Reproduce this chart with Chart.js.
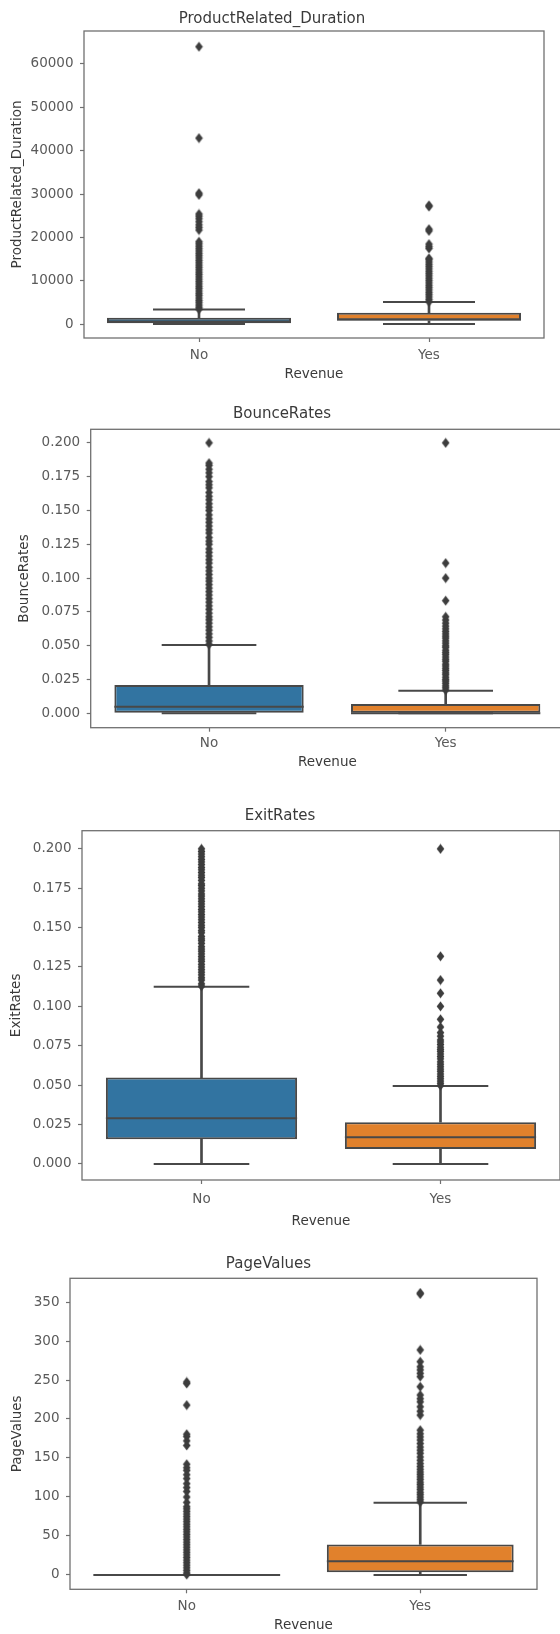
<!DOCTYPE html>
<html>
<head>
<meta charset="utf-8">
<script src="https://cdn.jsdelivr.net/npm/chart.js@4.4.0/dist/chart.umd.min.js"></script>
<style>
  html, body { margin: 0; padding: 0; background: #fff; overflow: hidden; }
  body { width: 560px; height: 1634px; position: relative; }
  canvas { position: absolute; left: 0; }
</style>
</head>
<body>
<script>
const categories = ['No', 'Yes'];

// ProductRelated_Duration
const prdQ1 = [185, 760];
const prdMedian = [600, 1110];
const prdQ3 = [1465, 2610];
const prdLow = [0, 0];
const prdHigh = [3390, 5080];
const prdFliersNo = [3420, 3880, 4410, 4950, 5460, 6020, 6590, 7100, 7640, 8210, 8730, 9280, 9810, 10370,
  10900, 11460, 11980, 12530, 13090, 13620, 14150, 14700, 15260, 15790, 16330, 16870, 17400, 17960, 18510,
  19000, 21700, 22300, 22900, 23600, 24300, 24900, 25400, 29800, 30200, 42900, 63970];
const prdFliersYes = [5150, 5700, 6260, 6800, 7330, 7890, 8420, 8960, 9510, 10040, 10580, 11130, 11650,
  12190, 12740, 13270, 13800, 14340, 14870, 15170, 17450, 17900, 18450, 21500, 21900, 27100, 27400];
const prdTicks = [0, 10000, 20000, 30000, 40000, 50000, 60000];
const prdRange = [-3200, 67600];

// BounceRates
const brQ1 = [0, 0];
const brMedian = [0.0049, 0];
const brQ3 = [0.0209, 0.0069];
const brLow = [0, 0];
const brHigh = [0.0505, 0.0167];
const brFliersNo = [0.051, 0.0535, 0.0562, 0.0588, 0.0615, 0.064, 0.0667, 0.0692, 0.0714, 0.0741, 0.0769,
  0.0795, 0.0822, 0.0848, 0.0875, 0.09, 0.0926, 0.0952, 0.0978, 0.1, 0.1027, 0.1053, 0.108, 0.1111, 0.1136,
  0.1163, 0.119, 0.1216, 0.125, 0.1273, 0.13, 0.1333, 0.1357, 0.1385, 0.1412, 0.1438, 0.1467, 0.15, 0.1524,
  0.155, 0.1579, 0.1605, 0.1633, 0.1667, 0.169, 0.1714, 0.175, 0.1778, 0.1805, 0.1833, 0.185, 0.2];
const brFliersYes = [0.0172, 0.0189, 0.0204, 0.0222, 0.0238, 0.025, 0.0267, 0.0286, 0.03, 0.0317, 0.0333,
  0.035, 0.0364, 0.0385, 0.04, 0.0417, 0.0435, 0.045, 0.0467, 0.0488, 0.05, 0.0519, 0.0536, 0.0556, 0.0571,
  0.0588, 0.0606, 0.0625, 0.0645, 0.0667, 0.069, 0.0714, 0.0833, 0.1, 0.1111, 0.2];
const brTicks = [0, 0.025, 0.05, 0.075, 0.1, 0.125, 0.15, 0.175, 0.2];
const brRange = [-0.0106, 0.21];

// ExitRates
const erQ1 = [0.0157, 0.0095];
const erMedian = [0.029, 0.0169];
const erQ3 = [0.0548, 0.0265];
const erLow = [0, 0];
const erHigh = [0.1125, 0.0495];
const erFliersNo = [0.1128, 0.1143, 0.1167, 0.1182, 0.12, 0.1217, 0.1233, 0.125, 0.1267, 0.1286, 0.13,
  0.1316, 0.1333, 0.135, 0.1364, 0.1379, 0.14, 0.1417, 0.1429, 0.1444, 0.1467, 0.1481, 0.15, 0.1515, 0.1533,
  0.155, 0.1567, 0.1583, 0.16, 0.1615, 0.1633, 0.165, 0.1667, 0.1683, 0.17, 0.1714, 0.1733, 0.175, 0.1767,
  0.1778, 0.18, 0.1818, 0.1833, 0.185, 0.1867, 0.1882, 0.19, 0.1917, 0.1933, 0.195, 0.1967, 0.1983, 0.2];
const erFliersYes = [0.0497, 0.0512, 0.0526, 0.0541, 0.0556, 0.0571, 0.0588, 0.0602, 0.0617, 0.0633, 0.0648,
  0.0667, 0.0682, 0.0698, 0.0714, 0.0727, 0.0741, 0.0758, 0.0774, 0.0787, 0.0811, 0.0833, 0.0869, 0.0918,
  0.1, 0.1083, 0.1167, 0.1318, 0.2];
const erTicks = [0, 0.025, 0.05, 0.075, 0.1, 0.125, 0.15, 0.175, 0.2];
const erRange = [-0.0102, 0.2115];

// PageValues
const pvQ1 = [0, 3.4];
const pvMedian = [0, 17.5];
const pvQ3 = [0, 39];
const pvLow = [0, 0];
const pvHigh = [0, 92.6];
const pvFliersNo = [0.4, 2.5, 5.8, 9.1, 12.5, 15.7, 19, 22.3, 25.6, 28.9, 32.1, 35.5, 38.7, 42, 45.3, 48.6,
  51.9, 55.2, 58.4, 61.7, 65, 68.3, 71.6, 74.8, 78.1, 81.4, 84.7, 87.5, 93, 99.9, 107, 112, 117, 123.5,
  128.5, 134, 137.5, 142, 166, 172, 177.5, 180.5, 217.8, 245.5, 247.5];
const pvFliersYes = [93.5, 96.5, 99.8, 103, 106, 109.5, 112.7, 116, 119, 122.5, 125.7, 129, 132, 135.5, 139,
  142.8, 147, 151.3, 156, 160, 164, 168.5, 173, 177, 181, 185.7, 205, 210, 215.7, 222, 226, 230.7, 241.4,
  254.3, 258.6, 263, 267, 273.5, 288.6, 360.5, 361.6];
const pvTicks = [0, 50, 100, 150, 200, 250, 300, 350];
const pvRange = [-18.5, 380.5];

const BLUE = '#3274a1';
const ORANGE = '#e1812c';
const LINE = '#484848';
const FLIER = '#3d3d3d';
const FRAME = '#707070';
const FONT = 'DejaVu Sans';
const TITLE_SIZE = 15;
const AXIS_SIZE = 13.5;

// thin diamond marker like matplotlib 'd'
const flierMark = document.createElement('canvas');
flierMark.width = 9;
flierMark.height = 11;
(function () {
  const g = flierMark.getContext('2d');
  g.fillStyle = FLIER;
  g.beginPath();
  g.moveTo(4.5, 0.5);
  g.lineTo(8.3, 5.5);
  g.lineTo(4.5, 10.5);
  g.lineTo(0.7, 5.5);
  g.closePath();
  g.fill();
})();

const framePlugin = {
  id: 'frame',
  afterDatasetsDraw(chart) {
    const { ctx, chartArea: a } = chart;
    ctx.save();
    ctx.strokeStyle = FRAME;
    ctx.lineWidth = 1.3;
    ctx.strokeRect(a.left, a.top, a.right - a.left, a.bottom - a.top);
    ctx.restore();
  }
};

function boxChart(p, s) {
  const canvas = document.createElement('canvas');
  canvas.width = p.width;
  canvas.height = p.height;
  canvas.style.top = p.top + 'px';
  canvas.style.width = p.width + 'px';
  canvas.style.height = p.height + 'px';
  document.body.appendChild(canvas);

  const lhT = TITLE_SIZE * 1.2;
  const lhA = AXIS_SIZE * 1.2;
  const plotW = ctx => ctx.chart.chartArea ? ctx.chart.chartArea.right - ctx.chart.chartArea.left : 0;
  const halfBox = ctx => plotW(ctx) * 0.2;
  const halfCap = ctx => plotW(ctx) * 0.1;

  const fliers = s.fliersNo.map(v => ({ x: categories[0], y: v }))
    .concat(s.fliersYes.map(v => ({ x: categories[1], y: v })));

  const tickStyle = { color: '#5a5a5a', font: { family: FONT, size: AXIS_SIZE } };
  const titleStyle = { color: '#3a3a3a', font: { family: FONT, size: AXIS_SIZE } };

  new Chart(canvas, {
    type: 'bar',
    data: {
      labels: categories,
      datasets: [
        { type: 'line', data: fliers, order: 1, showLine: false, pointStyle: flierMark, pointRadius: 4 },
        { type: 'line', data: s.med, order: 2, showLine: false, pointStyle: 'line', pointRadius: halfBox,
          pointBorderColor: LINE, pointBorderWidth: 2 },
        { type: 'line', data: s.hi, order: 3, showLine: false, pointStyle: 'line', pointRadius: halfCap,
          pointBorderColor: LINE, pointBorderWidth: 2 },
        { type: 'line', data: s.lo, order: 3, showLine: false, pointStyle: 'line', pointRadius: halfCap,
          pointBorderColor: LINE, pointBorderWidth: 2 },
        { type: 'bar', data: categories.map((c, i) => [s.q3[i], s.hi[i]]), order: 4, grouped: false,
          barThickness: 2, backgroundColor: LINE },
        { type: 'bar', data: categories.map((c, i) => [s.lo[i], s.q1[i]]), order: 4, grouped: false,
          barThickness: 2, backgroundColor: LINE },
        { type: 'bar', data: categories.map((c, i) => [s.q1[i], s.q3[i]]), order: 5, grouped: false,
          backgroundColor: [BLUE, ORANGE], borderColor: LINE, borderWidth: 2, borderSkipped: false,
          barPercentage: 0.8, categoryPercentage: 1 }
      ]
    },
    options: {
      responsive: false,
      devicePixelRatio: 1,
      animation: false,
      events: [],
      layout: { padding: { left: 0, top: 0, bottom: 0, right: p.width - p.right } },
      plugins: {
        legend: { display: false },
        tooltip: { enabled: false },
        title: {
          display: true,
          text: s.title,
          color: '#3a3a3a',
          font: { family: FONT, size: TITLE_SIZE, weight: 'normal' },
          padding: { top: p.titleY - p.top - lhT / 2, bottom: p.plotTop - p.titleY - lhT / 2 }
        }
      },
      scales: {
        x: {
          type: 'category',
          offset: true,
          border: { display: false },
          grid: { drawOnChartArea: false, offset: false, tickLength: 4, tickColor: FRAME, tickWidth: 1.2 },
          ticks: Object.assign({ padding: p.tickY - AXIS_SIZE * 0.56 - p.plotBottom - 4 }, tickStyle),
          title: Object.assign({ display: true, text: 'Revenue',
            padding: { top: 0, bottom: p.top + p.height - p.xTitleY - lhA / 2 } }, titleStyle),
          afterFit: sc => { sc.height = p.top + p.height - p.plotBottom; }
        },
        y: {
          type: 'linear',
          min: s.range[0],
          max: s.range[1],
          border: { display: false },
          grid: { drawOnChartArea: false, tickLength: 4, tickColor: FRAME, tickWidth: 1.2 },
          afterBuildTicks: sc => { sc.ticks = s.ticks.map(v => ({ value: v })); },
          ticks: Object.assign({ padding: 6.5, callback: v => s.decimals ? v.toFixed(s.decimals) : String(v) }, tickStyle),
          title: Object.assign({ display: true, text: s.title,
            padding: { top: p.yTitleX - lhA / 2, bottom: 0 } }, titleStyle),
          afterFit: sc => { sc.width = p.left; }
        }
      }
    },
    plugins: [framePlugin]
  });
}

boxChart(
  { top: 0, width: 560, height: 384, left: 84, right: 544, plotTop: 31, plotBottom: 338,
    titleY: 18.8, tickY: 354.5, xTitleY: 374, yTitleX: 17.5 },
  { title: 'ProductRelated_Duration', q1: prdQ1, med: prdMedian, q3: prdQ3, lo: prdLow, hi: prdHigh,
    fliersNo: prdFliersNo, fliersYes: prdFliersYes, ticks: prdTicks, range: prdRange, decimals: 0 });

boxChart(
  { top: 395, width: 580, height: 377, left: 90.7, right: 564, plotTop: 429.3, plotBottom: 727.7,
    titleY: 414.5, tickY: 743, xTitleY: 762, yTitleX: 24 },
  { title: 'BounceRates', q1: brQ1, med: brMedian, q3: brQ3, lo: brLow, hi: brHigh,
    fliersNo: brFliersNo, fliersYes: brFliersYes, ticks: brTicks, range: brRange, decimals: 3 });

boxChart(
  { top: 795, width: 580, height: 436, left: 82, right: 560, plotTop: 830.7, plotBottom: 1180,
    titleY: 816.3, tickY: 1199, xTitleY: 1221, yTitleX: 16 },
  { title: 'ExitRates', q1: erQ1, med: erMedian, q3: erQ3, lo: erLow, hi: erHigh,
    fliersNo: erFliersNo, fliersYes: erFliersYes, ticks: erTicks, range: erRange, decimals: 3 });

boxChart(
  { top: 1240, width: 560, height: 394, left: 70, right: 537, plotTop: 1278.3, plotBottom: 1589.3,
    titleY: 1264, tickY: 1606, xTitleY: 1625.3, yTitleX: 17 },
  { title: 'PageValues', q1: pvQ1, med: pvMedian, q3: pvQ3, lo: pvLow, hi: pvHigh,
    fliersNo: pvFliersNo, fliersYes: pvFliersYes, ticks: pvTicks, range: pvRange, decimals: 0 });
</script>
</body>
</html>
